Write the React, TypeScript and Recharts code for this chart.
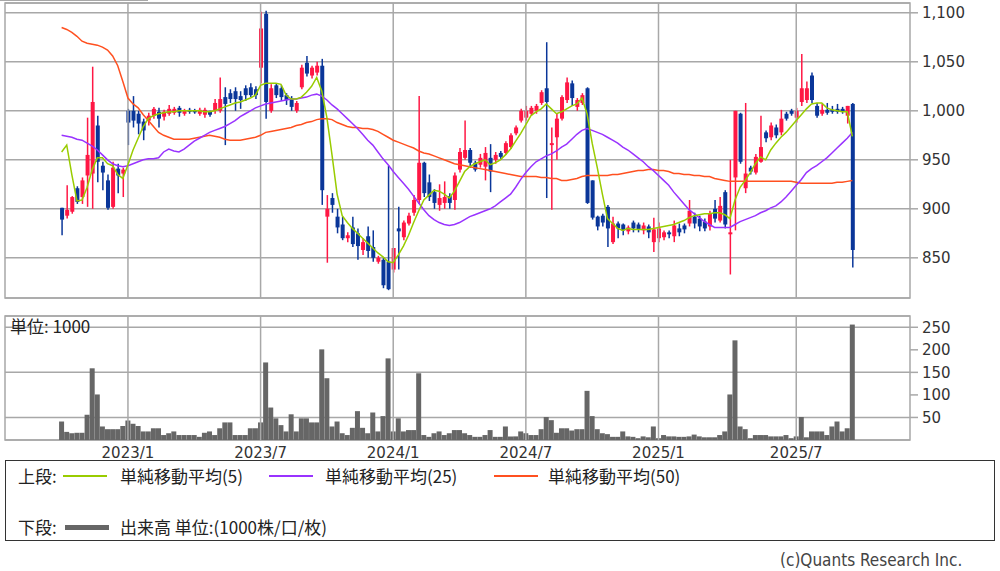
import React from 'react';
import { Bar, CartesianGrid, ComposedChart, Line, ReferenceArea, ReferenceLine, XAxis, YAxis } from 'recharts';

// weekly candles, index 0 = first week shown
const opens = [
  901, 893, 897, 921, 912, 934, 936, 985, 944, 929, 902, 941, 936, 1000, 1000, 997, 989, 990, 995, 999,
  994, 997, 998, 1003, 997, 1001, 1000, 997, 996, 999, 1000, 1000, 1014, 1018, 1020, 1015, 1023, 1024, 1022, 1044,
  1099, 1000, 1026, 1023, 1016, 1012, 1000, 1024, 1049, 1036, 1039, 1046, 892, 911, 892, 884, 870, 881, 875, 858,
  872, 861, 846, 848, 846, 838, 880, 871, 885, 896, 909, 947, 927, 917, 904, 906, 913, 909, 940, 952,
  960, 947, 945, 943, 952, 950, 957, 957, 963, 977, 990, 993, 997, 1000, 1008, 1023, 965, 973, 992, 1011,
  1028, 1004, 1008, 1023, 929, 892, 893, 902, 866, 885, 884, 877, 886, 884, 878, 882, 866, 870, 871, 876,
  872, 880, 883, 885, 892, 890, 887, 882, 900, 888, 917, 874, 932, 997, 921, 942, 937, 948, 978, 973,
  983, 978, 997, 1000, 993, 1009, 1011, 1036, 1005, 997, 1001, 1001, 1002, 1002, 995, 1007,
];
const highs = [
  901, 924, 913, 923, 932, 993, 1045, 995, 948, 935, 948, 946, 942, 1002, 1015, 1000, 992, 998, 1004, 1003,
  1001, 1006, 1004, 1005, 1002, 1003, 1002, 1003, 1003, 1000, 1012, 1034, 1024, 1022, 1024, 1020, 1026, 1028, 1025, 1101,
  1102, 1027, 1028, 1026, 1018, 1015, 1010, 1047, 1056, 1046, 1050, 1053, 914, 916, 900, 892, 876, 892, 880, 870,
  882, 878, 852, 850, 944, 860, 902, 888, 896, 914, 1015, 948, 935, 920, 925, 928, 916, 937, 962, 990,
  962, 949, 956, 963, 966, 958, 959, 969, 977, 985, 1002, 1005, 1005, 1007, 1021, 1070, 983, 997, 1016, 1034,
  1031, 1013, 1018, 1024, 929, 893, 895, 904, 892, 887, 885, 883, 888, 886, 886, 884, 891, 886, 878, 878,
  888, 885, 885, 909, 896, 893, 890, 898, 909, 912, 919, 950, 1000, 998, 1008, 944, 956, 995, 980, 988,
  986, 1001, 999, 1002, 1003, 1058, 1030, 1039, 1008, 1007, 1008, 1005, 1007, 1004, 1005, 1008,
];
const lows = [
  873, 890, 895, 905, 905, 902, 900, 927, 919, 899, 900, 916, 912, 965, 983, 976, 970, 985, 992, 983,
  990, 995, 996, 994, 995, 997, 997, 995, 993, 994, 997, 998, 965, 1008, 1000, 1002, 1010, 1014, 1012, 1028,
  992, 998, 1013, 1010, 1006, 1000, 998, 1022, 1035, 1033, 1036, 904, 845, 896, 875, 868, 866, 861, 848, 853,
  850, 846, 844, 819, 817, 835, 838, 868, 883, 893, 905, 912, 908, 900, 898, 900, 900, 899, 937, 950,
  942, 938, 942, 929, 917, 946, 950, 955, 961, 975, 988, 990, 995, 997, 1006, 911, 899, 950, 990, 1008,
  1005, 1000, 1006, 905, 889, 878, 882, 861, 864, 870, 873, 874, 876, 876, 874, 870, 856, 866, 868, 870,
  866, 872, 875, 882, 880, 877, 877, 878, 886, 886, 880, 833, 878, 946, 916, 935, 935, 947, 968, 970,
  972, 975, 990, 995, 988, 1005, 1008, 1008, 993, 995, 996, 997, 997, 997, 987, 840,
];
const closes = [
  889, 899, 912, 907, 929, 955, 1009, 948, 937, 901, 942, 934, 940, 988, 990, 987, 980, 995, 1002, 992,
  999, 1002, 1002, 998, 1000, 999, 999, 1001, 1001, 996, 1008, 1012, 1007, 1012, 1012, 1011, 1016, 1016, 1016, 1084,
  1009, 1023, 1016, 1014, 1011, 1004, 1008, 1044, 1038, 1044, 1046, 919, 900, 904, 881, 870, 873, 864, 862, 866,
  857, 850, 850, 822, 818, 860, 877, 886, 893, 909, 947, 916, 912, 906, 911, 912, 906, 934, 958, 960,
  947, 940, 952, 957, 938, 955, 953, 967, 975, 983, 1000, 1000, 1003, 1005, 1019, 1009, 967, 992, 1014, 1029,
  1013, 1011, 1016, 906, 891, 882, 886, 880, 885, 880, 878, 881, 880, 879, 883, 876, 879, 880, 876, 874,
  883, 876, 879, 898, 885, 882, 880, 895, 890, 903, 884, 876, 1000, 948, 936, 938, 953, 963, 972, 985,
  975, 992, 992, 997, 1000, 1023, 1023, 1011, 995, 1001, 998, 999, 999, 999, 1005, 858,
];
const volumes = [
  41, 18, 15, 16, 16, 56, 159, 101, 30, 24, 24, 24, 31, 43, 36, 31, 19, 19, 26, 26,
  11, 15, 19, 11, 11, 11, 11, 7, 16, 19, 11, 26, 39, 39, 11, 11, 11, 26, 26, 39,
  172, 72, 48, 33, 19, 57, 19, 48, 48, 39, 39, 201, 137, 30, 41, 15, 11, 27, 64, 27,
  15, 61, 19, 53, 181, 19, 48, 19, 22, 22, 148, 11, 7, 15, 19, 11, 15, 22, 22, 15,
  11, 7, 7, 11, 22, 7, 7, 30, 8, 8, 19, 15, 11, 11, 24, 51, 44, 16, 26, 26,
  21, 24, 24, 109, 53, 24, 15, 13, 7, 7, 19, 8, 7, 4, 8, 6, 30, 4, 11, 8,
  8, 7, 7, 8, 12, 8, 6, 6, 6, 11, 19, 101, 221, 30, 24, 4, 11, 11, 11, 8,
  8, 8, 11, 4, 8, 51, 6, 19, 19, 19, 11, 30, 41, 19, 26, 256,
];
const ma5 = [
  958, 965, 935, 908, 909, 922, 940, 952, 952, 946, 944, 935, 931, 945, 960, 972, 984, 992, 995, 997,
  998, 999, 999, 1000, 1000, 1000, 1000, 1000, 999, 999, 1000, 1002, 1004, 1006, 1008, 1009, 1011, 1013, 1016, 1026,
  1028, 1028, 1028, 1027, 1016, 1012, 1012, 1014, 1019, 1025, 1034, 1020, 993, 955, 915, 893, 886, 880, 875, 870,
  865, 860, 855, 851, 846, 845, 853, 862, 873, 886, 898, 909, 914, 919, 918, 915, 911, 918, 928, 938,
  943, 946, 948, 950, 945, 947, 950, 955, 961, 969, 977, 986, 995, 999, 1002, 1007, 1002, 997, 999, 1002,
  1005, 1007, 1013, 997, 967, 942, 915, 890, 885, 880, 878, 880, 879, 879, 879, 879, 880, 881, 882, 883,
  884, 886, 888, 891, 893, 894, 895, 895, 896, 896, 894, 890, 909, 922, 929, 937, 946, 953, 950, 960,
  967, 973, 978, 984, 990, 996, 1002, 1007, 1008, 1008, 1003, 1001, 1000, 999, 999, 974,
];
const ma25 = [
  975, 974, 973, 971, 970, 967, 964, 960, 955, 950, 946, 944, 943, 944, 946, 948, 950, 951, 951, 952,
  958, 961, 959, 958, 961, 965, 969, 972, 975, 978, 980, 982, 984, 987, 990, 994, 997, 1000, 1003, 1005,
  1007, 1008, 1009, 1010, 1011, 1012, 1012, 1013, 1014, 1016, 1017, 1015, 1011, 1006, 1002, 997, 992, 987, 982, 976,
  970, 965, 958, 951, 945, 938, 932, 926, 920, 913, 906, 899, 893, 889, 886, 884, 883, 884, 886, 889,
  892, 894, 896, 898, 900, 903, 907, 911, 915, 922, 930, 937, 943, 948, 951, 954, 956, 959, 963, 966,
  971, 976, 980, 982, 980, 978, 976, 973, 970, 967, 963, 960, 956, 952, 948, 943, 939, 934, 929, 924,
  917, 911, 905, 899, 895, 891, 887, 884, 881, 881, 881, 881, 884, 887, 889, 891, 893, 896, 898, 901,
  903, 907, 912, 918, 924, 930, 937, 941, 944, 948, 952, 957, 962, 967, 972, 978,
];
const ma50 = [
  1085, 1083, 1080, 1076, 1071, 1069, 1068, 1067, 1065, 1062, 1056, 1046, 1030, 1013, 1007, 1003, 996, 990, 984, 978,
  975, 973, 971, 971, 971, 971, 972, 973, 974, 975, 974, 973, 971, 970, 970, 970, 971, 972, 973, 975,
  978, 979, 980, 981, 982, 983, 985, 986, 988, 989, 991, 992, 992, 991, 988, 986, 984, 983, 983, 982,
  982, 981, 979, 976, 973, 970, 968, 966, 964, 962, 959, 957, 956, 954, 952, 950, 948, 946, 945, 944,
  943, 942, 941, 940, 939, 938, 937, 936, 935, 934, 933, 933, 933, 933, 932, 932, 931, 931, 929, 929,
  930, 931, 933, 934, 934, 934, 934, 934, 935, 935, 936, 937, 938, 939, 939, 940, 940, 939, 939, 938,
  936, 936, 935, 935, 934, 934, 933, 933, 931, 930, 929, 928, 928, 928, 928, 928, 928, 928, 928, 928,
  928, 928, 928, 928, 927, 926, 926, 926, 926, 926, 926, 926, 927, 927, 928, 929,
];

const tickWeeks = [13, 39, 65, 91, 117, 144];
const tickLabels = ['2023/1', '2023/7', '2024/1', '2024/7', '2025/1', '2025/7'];
const priceTicks = [850, 900, 950, 1000, 1050, 1100];
const volumeTicks = [50, 100, 150, 200, 250];

const rows = opens.map((o, i) => ({
  i,
  o,
  h: highs[i],
  l: lows[i],
  c: closes[i],
  range: [lows[i], highs[i]],
  vol: volumes[i],
  ma5: ma5[i],
  ma25: ma25[i],
  ma50: ma50[i],
}));

const X_DOMAIN: [number, number] = [-11.1, 166.3];
const PRICE_DOMAIN: [number, number] = [809, 1110];
const VOL_DOMAIN: [number, number] = [0, 275];

const RED = '#ff1744';
const BLUE = '#0a3699';
const GRID = '#a8a8a8';
const FONT = '"DejaVu Sans", sans-serif';
const CJK = '"Noto Sans CJK JP", sans-serif';

function Candle(props: any) {
  const { x, y, width, height, payload } = props;
  if (x == null || y == null) return null;
  const { o, h, l, c } = payload;
  const color = c >= o ? RED : BLUE;
  const top = Math.min(y, y + height);
  const full = Math.abs(height);
  const k = h - l > 0 ? full / (h - l) : 0;
  const bodyTop = top + (h - Math.max(o, c)) * k;
  const bodyH = Math.max(Math.abs(o - c) * k, 1.5);
  const cx = x + width / 2;
  return (
    <g>
      <line x1={cx} x2={cx} y1={top} y2={top + full} stroke={color} strokeWidth={1.5} />
      <rect x={x} y={bodyTop} width={width} height={bodyH} fill={color} />
    </g>
  );
}

const tickStyle = { fontSize: 15, fill: '#333', fontFamily: FONT };

function PriceChart() {
  return (
    <ComposedChart width={1000} height={300} data={rows} margin={{ top: 3, right: 0, bottom: 2, left: 5 }}>
      <CartesianGrid horizontal vertical={false} stroke={GRID} strokeWidth={1.5} />
      <XAxis dataKey="i" type="number" domain={X_DOMAIN} allowDataOverflow hide />
      <YAxis
        orientation="right"
        domain={PRICE_DOMAIN}
        allowDataOverflow
        ticks={priceTicks}
        width={90}
        axisLine={false}
        tickSize={8}
        tickMargin={4}
        tickLine={{ stroke: GRID, strokeWidth: 1.5 }}
        tick={tickStyle}
        tickFormatter={(v: number) => v.toLocaleString('en-US')}
      />
      {tickWeeks.map((w) => (
        <ReferenceLine key={w} x={w} stroke={GRID} strokeWidth={1.5} />
      ))}
      <ReferenceArea
        x1={X_DOMAIN[0]}
        x2={X_DOMAIN[1]}
        y1={PRICE_DOMAIN[0]}
        y2={PRICE_DOMAIN[1]}
        fill="none"
        stroke={GRID}
        strokeWidth={1.5}
      />
      <Bar dataKey="range" barSize={4} shape={<Candle />} isAnimationActive={false} />
      <Line type="linear" dataKey="ma50" stroke="#ff5020" strokeWidth={1.5} dot={false} isAnimationActive={false} />
      <Line type="linear" dataKey="ma25" stroke="#9933ff" strokeWidth={1.5} dot={false} isAnimationActive={false} />
      <Line type="linear" dataKey="ma5" stroke="#99cc00" strokeWidth={1.5} dot={false} isAnimationActive={false} />
    </ComposedChart>
  );
}

function VolumeChart() {
  return (
    <ComposedChart width={1000} height={170} data={rows} margin={{ top: 16, right: 0, bottom: 0, left: 5 }}>
      <CartesianGrid horizontal vertical={false} stroke={GRID} strokeWidth={1.5} />
      <XAxis
        dataKey="i"
        type="number"
        domain={X_DOMAIN}
        allowDataOverflow
        ticks={tickWeeks}
        interval={0}
        height={30}
        axisLine={false}
        tickLine={false}
        tickSize={6}
        tickMargin={1}
        tick={tickStyle}
        tickFormatter={(v: number) => tickLabels[tickWeeks.indexOf(v)] ?? ''}
      />
      <YAxis
        orientation="right"
        domain={VOL_DOMAIN}
        ticks={volumeTicks}
        width={90}
        axisLine={false}
        tickSize={8}
        tickMargin={4}
        tickLine={{ stroke: GRID, strokeWidth: 1.5 }}
        tick={tickStyle}
      />
      {tickWeeks.map((w) => (
        <ReferenceLine key={w} x={w} stroke={GRID} strokeWidth={1.5} />
      ))}
      <ReferenceArea
        x1={X_DOMAIN[0]}
        x2={X_DOMAIN[1]}
        y1={VOL_DOMAIN[0]}
        y2={VOL_DOMAIN[1]}
        fill="none"
        stroke={GRID}
        strokeWidth={1.5}
      />
      <Bar dataKey="vol" barSize={5} fill="#666666" isAnimationActive={false} />
    </ComposedChart>
  );
}

const legendText: React.CSSProperties = { position: 'absolute', fontFamily: CJK, fontSize: 17, color: '#222', lineHeight: '20px', whiteSpace: 'nowrap' };

function LegendBox() {
  const line = (left: number, top: number, color: string, h = 2) => (
    <div style={{ position: 'absolute', left, top: top - h / 2, width: 44, height: h, background: color }} />
  );
  return (
    <div style={{ position: 'absolute', left: 5, top: 460, width: 990, height: 81, border: '1px solid #333', boxSizing: 'border-box' }}>
      <div style={{ ...legendText, left: 12, top: 5 }}>上段:</div>
      {line(57, 15, '#99cc00')}
      <div style={{ ...legendText, left: 114, top: 5 }}>単純移動平均(5)</div>
      {line(263, 15, '#9933ff')}
      <div style={{ ...legendText, left: 319, top: 5 }}>単純移動平均(25)</div>
      {line(488, 15, '#ff5020')}
      <div style={{ ...legendText, left: 542, top: 5 }}>単純移動平均(50)</div>
      <div style={{ ...legendText, left: 12, top: 56 }}>下段:</div>
      {line(59, 66, '#666666', 5)}
      <div style={{ ...legendText, left: 114, top: 56 }}>出来高 単位:(1000株/口/枚)</div>
    </div>
  );
}

export default function App() {
  return (
    <div style={{ position: 'relative', width: 1000, height: 571, background: '#fff', fontFamily: FONT, overflow: 'hidden' }}>
      <style>{'body{margin:0}'}</style>
      <div style={{ position: 'absolute', left: 0, top: 0, width: 148, height: 1, background: GRID }} />
      <div style={{ position: 'absolute', left: 0, top: 0 }}>
        <PriceChart />
      </div>
      <div style={{ position: 'absolute', left: 0, top: 300 }}>
        <VolumeChart />
      </div>
      <div style={{ position: 'absolute', left: 10, top: 316, fontFamily: CJK, fontSize: 17, color: '#222', lineHeight: '20px', whiteSpace: 'nowrap' }}>
        単位: 1000
      </div>
      <LegendBox />
      <div style={{ position: 'absolute', left: 780, top: 550, fontFamily: '"DejaVu Sans Condensed", "DejaVu Sans", sans-serif', fontSize: 17, color: '#444', whiteSpace: 'nowrap' }}>
        (c)Quants Research Inc.
      </div>
    </div>
  );
}
